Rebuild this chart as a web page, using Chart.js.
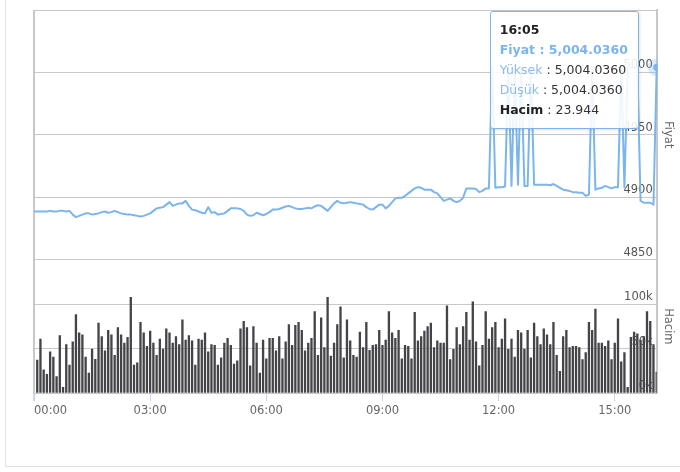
<!DOCTYPE html>
<html>
<head>
<meta charset="utf-8">
<script src="https://cdn.jsdelivr.net/npm/chart.js@4.4.1/dist/chart.umd.min.js"></script>
<style>
  html, body { margin: 0; padding: 0; background: #fff; }
  #wrap { position: relative; width: 680px; height: 472px; overflow: hidden; }
  #frame { position: absolute; left: 5px; top: -5px; width: 700px; height: 472px;
           border: 1px solid #e2e2e2; box-sizing: border-box; }
  #c { position: absolute; left: 0; top: 0; }
  #tip { position: absolute; background: rgba(255,255,255,0.88); border: 1px solid #7cb5ec;
         border-radius: 3px; padding: 8px 10px 8px 9px; font: 12.5px "DejaVu Sans", sans-serif;
         line-height: 20px; color: #333; white-space: nowrap; box-shadow: 1px 1px 3px rgba(0,0,0,0.12);
         pointer-events: none; }
  #tip .t { font-weight: bold; color: #222; }
  #tip .p { font-weight: bold; color: #7cb5ec; }
  #tip .k { color: #8dbbe8; }
  #tip .h { font-weight: bold; color: #222; }
</style>
</head>
<body>
<div id="wrap">
  <div id="frame"></div>
  <canvas id="c" width="680" height="472"></canvas>
  <div id="tip"></div>
</div>
<script>
// ===== DATA =====
// 5 dakikalık zaman dilimleri, 00:00 - 16:05
const times = [];
for (let m = 0; m <= 965; m += 5) {
  times.push(String(Math.floor(m / 60)).padStart(2, '0') + ':' + String(m % 60).padStart(2, '0'));
}
const hourTicks = ['00:00', '03:00', '06:00', '09:00', '12:00', '15:00'];

const prices = [
  4888.5, 4888.5, 4888.5, 4888.5, 4888.5, 4889, 4888.5, 4888.5, 4889, 4889,
  4888.5, 4889, 4886, 4884, 4885, 4886, 4887, 4887, 4886, 4886.5,
  4887, 4888, 4888.5, 4887.5, 4888, 4889, 4888, 4887, 4886.5, 4886,
  4886, 4885.5, 4885, 4884.5, 4885, 4886, 4887, 4889, 4891, 4891.5,
  4892, 4894, 4896, 4893, 4894, 4895, 4895, 4897, 4893, 4890,
  4889.5, 4888.5, 4887.5, 4887, 4892, 4887.5, 4888, 4886, 4886.5, 4887,
  4889, 4891, 4891, 4891, 4890.5, 4889, 4886, 4885, 4885.5, 4887.5,
  4886.5, 4885.5, 4886.5, 4888, 4890, 4890, 4890.5, 4891.5, 4892.5, 4893,
  4892, 4891, 4890.5, 4890.5, 4891, 4891.5, 4891, 4892.5, 4893.5, 4893,
  4891, 4889, 4892, 4895, 4897, 4895.5, 4895, 4895.5, 4896, 4895.5,
  4895, 4894.5, 4894, 4892, 4890.5, 4890, 4892, 4894, 4894, 4891,
  4893, 4896, 4899, 4899.5, 4899.5, 4901, 4903, 4905, 4907, 4908,
  4907.5, 4906, 4906, 4906, 4904, 4903, 4900, 4897, 4898, 4899,
  4897, 4896, 4897, 4899.5, 4907, 4907, 4907, 4906.5, 4904, 4905,
  4907, 4907, 5004, 4907.5, 4908, 4908, 4908.5, 5004, 4909, 5004,
  4910, 5004, 4909, 4909, 5004, 4910, 4910, 4910, 4910, 4910,
  4909.5, 4910.5, 4909, 4907.5, 4906, 4905.5, 4905, 4904, 4904, 4903.5,
  4903.5, 4901, 4902, 5004, 4906, 4907, 4907.5, 4909, 4908, 4907,
  4908, 4908, 5004, 4908, 5004, 5004, 5004, 5004, 4897, 4895.5,
  4895.5, 4895.5, 4894, 5004.036
];

const volumes = [
  0,
  37400, 61000, 26700, 21500, 46700, 41000, 19000, 65000, 7000, 55000,
  32000, 58000, 88500, 68000, 66000, 41000, 23000, 50000, 38500, 79000,
  64000, 48000, 71000, 66000, 43000, 74000, 66000, 56700, 63000, 108000,
  32000, 34400, 80000, 68000, 53000, 70000, 56700, 43000, 61000, 50000,
  72600, 68000, 56700, 64000, 55000, 82600, 60000, 65000, 59000, 32000,
  61000, 60000, 68000, 46700, 55000, 54000, 32000, 40000, 56700, 62000,
  54000, 33000, 36600, 72600, 81000, 74000, 31000, 75000, 56700, 23000,
  60000, 39000, 62000, 62000, 48000, 64000, 39000, 58000, 77500, 54000,
  76500, 80000, 71000, 48000, 56700, 62000, 92000, 43000, 85000, 51500,
  108000, 42000, 56700, 77500, 97400, 40000, 82600, 59000, 43000, 41000,
  69000, 51500, 80000, 48500, 54000, 55000, 71000, 54000, 60000, 92000,
  68000, 62000, 71000, 39000, 54000, 53000, 39000, 91000, 59000, 64000,
  70000, 75000, 79000, 51500, 59000, 56700, 56700, 98500, 38000, 49600,
  74000, 55000, 75000, 91000, 60000, 103000, 58000, 31000, 54000, 92000,
  61000, 74000, 80000, 51500, 61000, 83700, 49600, 61000, 41000, 71000,
  68000, 50000, 71000, 40000, 79000, 64000, 55000, 72600, 66000, 55000,
  80000, 43000, 25000, 64000, 71000, 51500, 53000, 53000, 51500, 38000,
  46000, 80000, 71000, 94800, 56700, 56700, 53000, 59000, 38000, 56700,
  83700, 35600, 46000, 7000, 63000, 69000, 67000, 60000, 64000, 92000,
  81000, 55000, 23944
];

// ===== FORMAT =====
function fmtFiyat(v) {
  const [a, b] = v.toFixed(4).split('.');
  return a.replace(/\B(?=(\d{3})+(?!\d))/g, ',') + '.' + b;
}
function fmtHacim(v) {
  return String(Math.round(v)).replace(/\B(?=(\d{3})+(?!\d))/g, '.');
}

// ===== TOOLTIP =====
function drawTip(context) {
  const { chart, tooltip } = context;
  const el = document.getElementById('tip');
  if (tooltip.opacity === 0 || !tooltip.dataPoints) { el.style.opacity = 0; return; }
  const i = tooltip.dataPoints[0].dataIndex;
  const pt = chart.getDatasetMeta(0).data[i];   // fiyat noktası
  const p = fmtFiyat(prices[i]);
  el.innerHTML =
    `<div class="t">${times[i]}</div>` +
    `<div class="p">Fiyat : ${p}</div>` +
    `<div><span class="k">Yüksek</span> : ${p}</div>` +
    `<div><span class="k">Düşük</span> : ${p}</div>` +
    `<div><span class="h">Hacim</span> : ${fmtHacim(volumes[i])}</div>`;
  el.style.opacity = 1;
  el.style.left = (pt.x - el.offsetWidth - 18) + 'px';
  el.style.top = Math.max(chart.chartArea.top + 1, pt.y - el.offsetHeight / 2) + 'px';
}

// ===== CHART =====
Chart.defaults.font.family = '"DejaVu Sans", sans-serif';
Chart.defaults.font.size = 11.5;

const GRID = '#c8c8c8';

const chart = new Chart(document.getElementById('c'), {
  type: 'line',
  data: {
    labels: times,
    datasets: [
      {
        type: 'line',
        label: 'Fiyat',
        data: prices,
        yAxisID: 'yPrice',
        borderColor: '#7cb5ec',
        borderWidth: 2,
        borderJoinStyle: 'round',
        tension: 0,
        pointRadius: 0,
        pointHoverRadius: 3.5,
        pointHoverBackgroundColor: '#7cb5ec',
        pointHoverBorderColor: 'rgba(124,181,236,0.28)',
        pointHoverBorderWidth: 11,
      },
      {
        type: 'bar',
        label: 'Hacim',
        data: volumes,
        yAxisID: 'yVol',
        backgroundColor: '#434348',
        hoverBackgroundColor: '#434348',
        barPercentage: 0.72,
        categoryPercentage: 1,
      }
    ]
  },
  options: {
    responsive: false,
    animation: false,
    events: [],
    layout: { padding: { left: 34, top: 10, right: 0, bottom: 51 } },
    plugins: {
      legend: { display: false },
      tooltip: { enabled: false, mode: 'index', intersect: false, external: drawTip }
    },
    scales: {
      x: {
        type: 'category',
        offset: false,
        grid: {
          offset: false,
          drawOnChartArea: true,
          color: c => c.index === 0 ? GRID : 'transparent',
          lineWidth: c => c.index === 0 ? 2 : 1,
          tickColor: c => hourTicks.includes(times[c.index]) ? '#ccd6eb' : 'transparent',
          tickLength: 8,
        },
        border: { display: false },
        ticks: {
          autoSkip: false,
          maxRotation: 0,
          minRotation: 0,
          align: 'inner',
          padding: 3,
          color: '#666',
          callback: (v, i) => hourTicks.includes(times[i]) ? times[i] : ''
        }
      },
      yPrice: {
        type: 'linear',
        position: 'right',
        stack: 'panes',
        stackWeight: 252,
        min: 4850,
        max: 5050,
        grid: { color: GRID, drawTicks: false },
        border: { display: true, color: GRID, width: 2 },
        ticks: {
          stepSize: 50,
          mirror: true,
          padding: -4,
          labelOffset: -7,
          color: '#555',
          callback: v => v === 5050 ? '' : v
        },
        title: { display: true, text: 'Fiyat', color: '#666', padding: { top: 5, bottom: 12.5 } }
      },
      yVol: {
        type: 'linear',
        position: 'right',
        stack: 'panes',
        stackWeight: 135,
        min: 0,
        max: 150000,
        grid: { color: GRID, drawTicks: false },
        border: { display: true, color: GRID, width: 2 },
        ticks: {
          stepSize: 50000,
          mirror: true,
          padding: -4,
          labelOffset: -7,
          color: '#555',
          callback: v => v === 150000 ? '' : (v / 1000) + 'k'
        },
        title: { display: true, text: 'Hacim', color: '#666', padding: { top: 5, bottom: 12.5 } }
      }
    }
  }
});

// ===== SON NOKTA AKTİF =====
const last = prices.length - 1;
chart.setActiveElements([{ datasetIndex: 0, index: last }]);
chart.tooltip.setActiveElements(
  [{ datasetIndex: 0, index: last }, { datasetIndex: 1, index: last }],
  { x: chart.chartArea.right, y: chart.chartArea.top }
);
chart.update();
</script>
</body>
</html>
